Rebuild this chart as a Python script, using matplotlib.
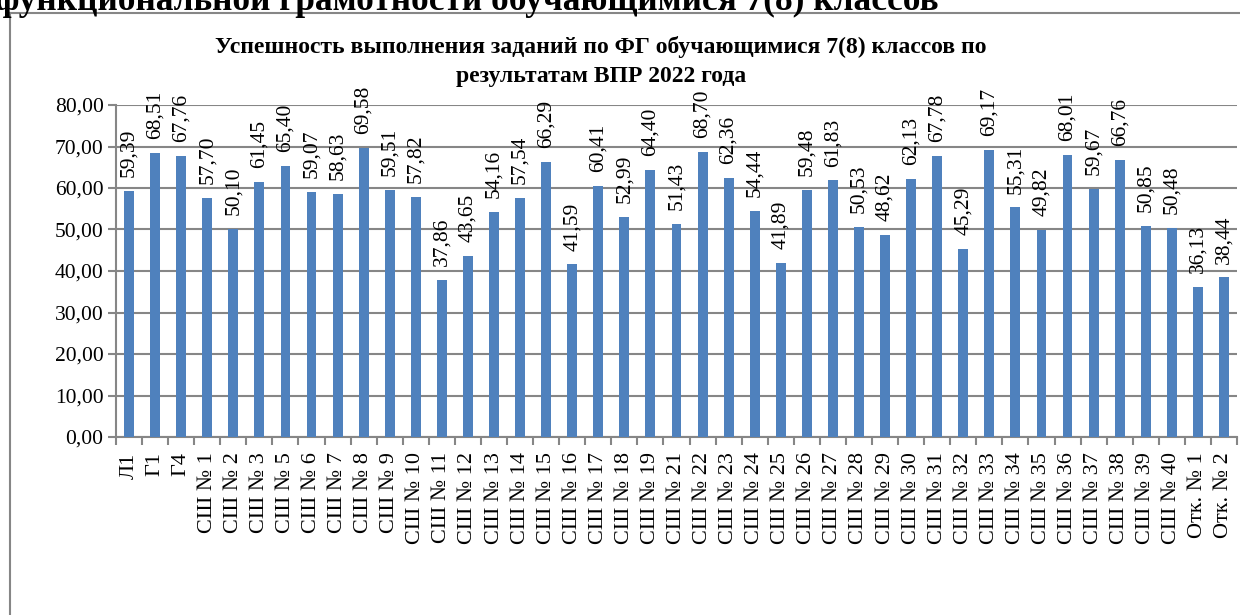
import matplotlib.pyplot as plt
from matplotlib.lines import Line2D

# данные
categories = ['Л1', 'Г1', 'Г4',
              'СШ № 1', 'СШ № 2', 'СШ № 3', 'СШ № 5', 'СШ № 6', 'СШ № 7', 'СШ № 8',
              'СШ № 9', 'СШ № 10', 'СШ № 11', 'СШ № 12', 'СШ № 13', 'СШ № 14',
              'СШ № 15', 'СШ № 16', 'СШ № 17', 'СШ № 18', 'СШ № 19', 'СШ № 21',
              'СШ № 22', 'СШ № 23', 'СШ № 24', 'СШ № 25', 'СШ № 26', 'СШ № 27',
              'СШ № 28', 'СШ № 29', 'СШ № 30', 'СШ № 31', 'СШ № 32', 'СШ № 33',
              'СШ № 34', 'СШ № 35', 'СШ № 36', 'СШ № 37', 'СШ № 38', 'СШ № 39',
              'СШ № 40', 'Отк. № 1', 'Отк. № 2']
values = [59.39, 68.51, 67.76,
          57.70, 50.10, 61.45, 65.40, 59.07, 58.63, 69.58,
          59.51, 57.82, 37.86, 43.65, 54.16, 57.54,
          66.29, 41.59, 60.41, 52.99, 64.40, 51.43,
          68.70, 62.36, 54.44, 41.89, 59.48, 61.83,
          50.53, 48.62, 62.13, 67.78, 45.29, 69.17,
          55.31, 49.82, 68.01, 59.67, 66.76, 50.85,
          50.48, 36.13, 38.44]
y_ticks = [0, 10, 20, 30, 40, 50, 60, 70, 80]

heading = 'функциональной грамотности обучающимися 7(8) классов'
title = ('Успешность выполнения заданий по ФГ обучающимися 7(8) классов по\n'
         'результатам ВПР 2022 года')

plt.rcParams['font.family'] = ['Liberation Serif', 'DejaVu Serif']
grey = '#868686'
blue = '#4F81BD'

def fmt(v):
    return f'{v:.2f}'.replace('.', ',')

fig = plt.figure(figsize=(12.4, 6.15), dpi=100)
ax = fig.add_axes([116 / 1240, 1 - 437 / 615, 1121 / 1240, 332 / 615])

x = range(len(categories))
ax.bar(x, values, width=0.38, color=blue, zorder=3)

for i, v in enumerate(values):
    ax.annotate(fmt(v), (i, v), xytext=(0, 10), textcoords='offset points',
                rotation=90, ha='center', va='bottom', fontsize=15.5,
                annotation_clip=False)

ax.set_xlim(-0.5, len(categories) - 0.5)
ax.set_ylim(0, 80)
ax.set_yticks(y_ticks)
ax.set_yticklabels([fmt(t) for t in y_ticks], fontsize=15.5)
ax.set_xticks(list(x))
ax.set_xticklabels(categories, rotation=90, fontsize=16)
ax.set_xticks([i - 0.5 for i in range(len(categories) + 1)], minor=True)
ax.tick_params(axis='x', which='major', length=0, pad=11)
ax.tick_params(axis='x', which='minor', length=6, color=grey, width=1.5)
ax.tick_params(axis='y', length=6, color=grey, width=1.5, pad=3)

ax.grid(axis='y', color=grey, linewidth=1.5, zorder=0)
for s in ['top', 'right']:
    ax.spines[s].set_visible(False)
for s in ['left', 'bottom']:
    ax.spines[s].set_color(grey)
    ax.spines[s].set_linewidth(1.5)

fig.text(601 / 1240, 1 - 36 / 615, title, fontsize=17, fontweight='bold',
         ha='center', va='top', linespacing=1.5)

# заголовок документа и рамка диаграммы
fig.text(-0.004, 1 - 10 / 615, heading, fontsize=25.5, fontweight='bold',
         ha='left', va='baseline')
fig.add_artist(Line2D([10 / 1240, 1], [1 - 13 / 615, 1 - 13 / 615],
                      color=grey, linewidth=1.5))
fig.add_artist(Line2D([10 / 1240, 10 / 1240], [0, 1 - 13 / 615],
                      color=grey, linewidth=1.5))

fig.savefig('out.png', dpi=100)
